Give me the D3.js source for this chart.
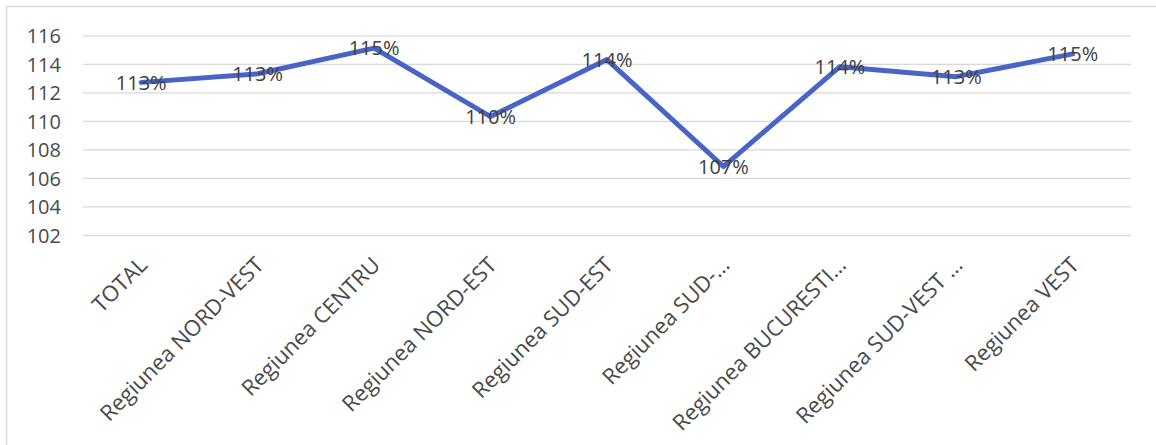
<!DOCTYPE html>
<html>
<head>
<meta charset="utf-8">
<script src="https://cdn.jsdelivr.net/npm/d3@7"></script>
<style>
  html, body { margin: 0; padding: 0; background: #fff; }
  svg { display: block; }
</style>
</head>
<body>
<svg id="chart" width="1156" height="445"></svg>
<script>
const categories = ["TOTAL", "Regiunea NORD-VEST", "Regiunea CENTRU", "Regiunea NORD-EST", "Regiunea SUD-EST", "Regiunea SUD-…", "Regiunea BUCURESTI…", "Regiunea SUD-VEST …", "Regiunea VEST"];
const values = [112.7, 113.3, 115.1, 110.3, 114.3, 106.8, 113.8, 113.1, 114.7];
const valueLabels = ["113%", "113%", "115%", "110%", "114%", "107%", "114%", "113%", "115%"];
const yTicks = [102, 104, 106, 108, 110, 112, 114, 116];

const svg = d3.select("#chart");
const plot = { left: 83, right: 1131, top: 35.3, bottom: 235 };

// outer frame (top & left visible)
svg.append("path")
  .attr("d", `M6.5,445 V6.5 H1156`)
  .attr("fill", "none").attr("stroke", "#d9d9d9").attr("stroke-width", 1.5);

const x = d3.scaleBand().domain(categories).range([plot.left, plot.right]);
const y = d3.scaleLinear().domain([102, 116]).range([plot.bottom, plot.top]);
const cx = d => x(d) + x.bandwidth() / 2;

// gridlines
const yAxisGrid = d3.axisLeft(y).tickValues(yTicks).tickSize(-(plot.right - plot.left)).tickFormat("");
const g = svg.append("g").attr("transform", `translate(${plot.left},0)`).call(yAxisGrid);
g.select(".domain").remove();
g.selectAll(".tick line").attr("stroke", "#d9d9d9").attr("stroke-width", 1.3);

// y tick labels
const yAxis = d3.axisLeft(y).tickValues(yTicks).tickSize(0).tickPadding(0);
const ya = svg.append("g").attr("transform", `translate(61,0)`).call(yAxis);
ya.select(".domain").remove();
ya.selectAll(".tick text")
  .attr("font-family", "'Open Sans', sans-serif").attr("font-size", 20)
  .attr("fill", "#4a4a4a").attr("text-anchor", "end").attr("dy", "0.36em").attr("x", 0);

// x labels
const xAxis = d3.axisBottom(x).tickSize(0).tickPadding(0);
const xa = svg.append("g").call(xAxis);
xa.select(".domain").remove();
xa.selectAll(".tick").attr("transform", d => `translate(${cx(d) + 2},261)`);
xa.selectAll(".tick text")
  .attr("font-family", "'Open Sans', sans-serif").attr("font-size", 22)
  .attr("fill", "#4a4a4a").attr("text-anchor", "end")
  .attr("x", 0).attr("y", 0).attr("dy", "0.35em")
  .attr("transform", "rotate(-45)");

// line
const line = d3.line().x((d, i) => cx(categories[i])).y(d => y(d));
svg.append("path").datum(values)
  .attr("d", line).attr("fill", "none")
  .attr("stroke", "#4864C9").attr("stroke-width", 5)
  .attr("stroke-linejoin", "round").attr("stroke-linecap", "round");

// value labels
svg.append("g").selectAll("text").data(values).join("text")
  .attr("x", (d, i) => cx(categories[i]))
  .attr("y", d => y(d))
  .attr("dy", "0.36em")
  .attr("text-anchor", "middle")
  .attr("font-family", "'Open Sans', sans-serif").attr("font-size", 20)
  .attr("fill", "#404040")
  .text((d, i) => valueLabels[i]);
</script>
</body>
</html>
